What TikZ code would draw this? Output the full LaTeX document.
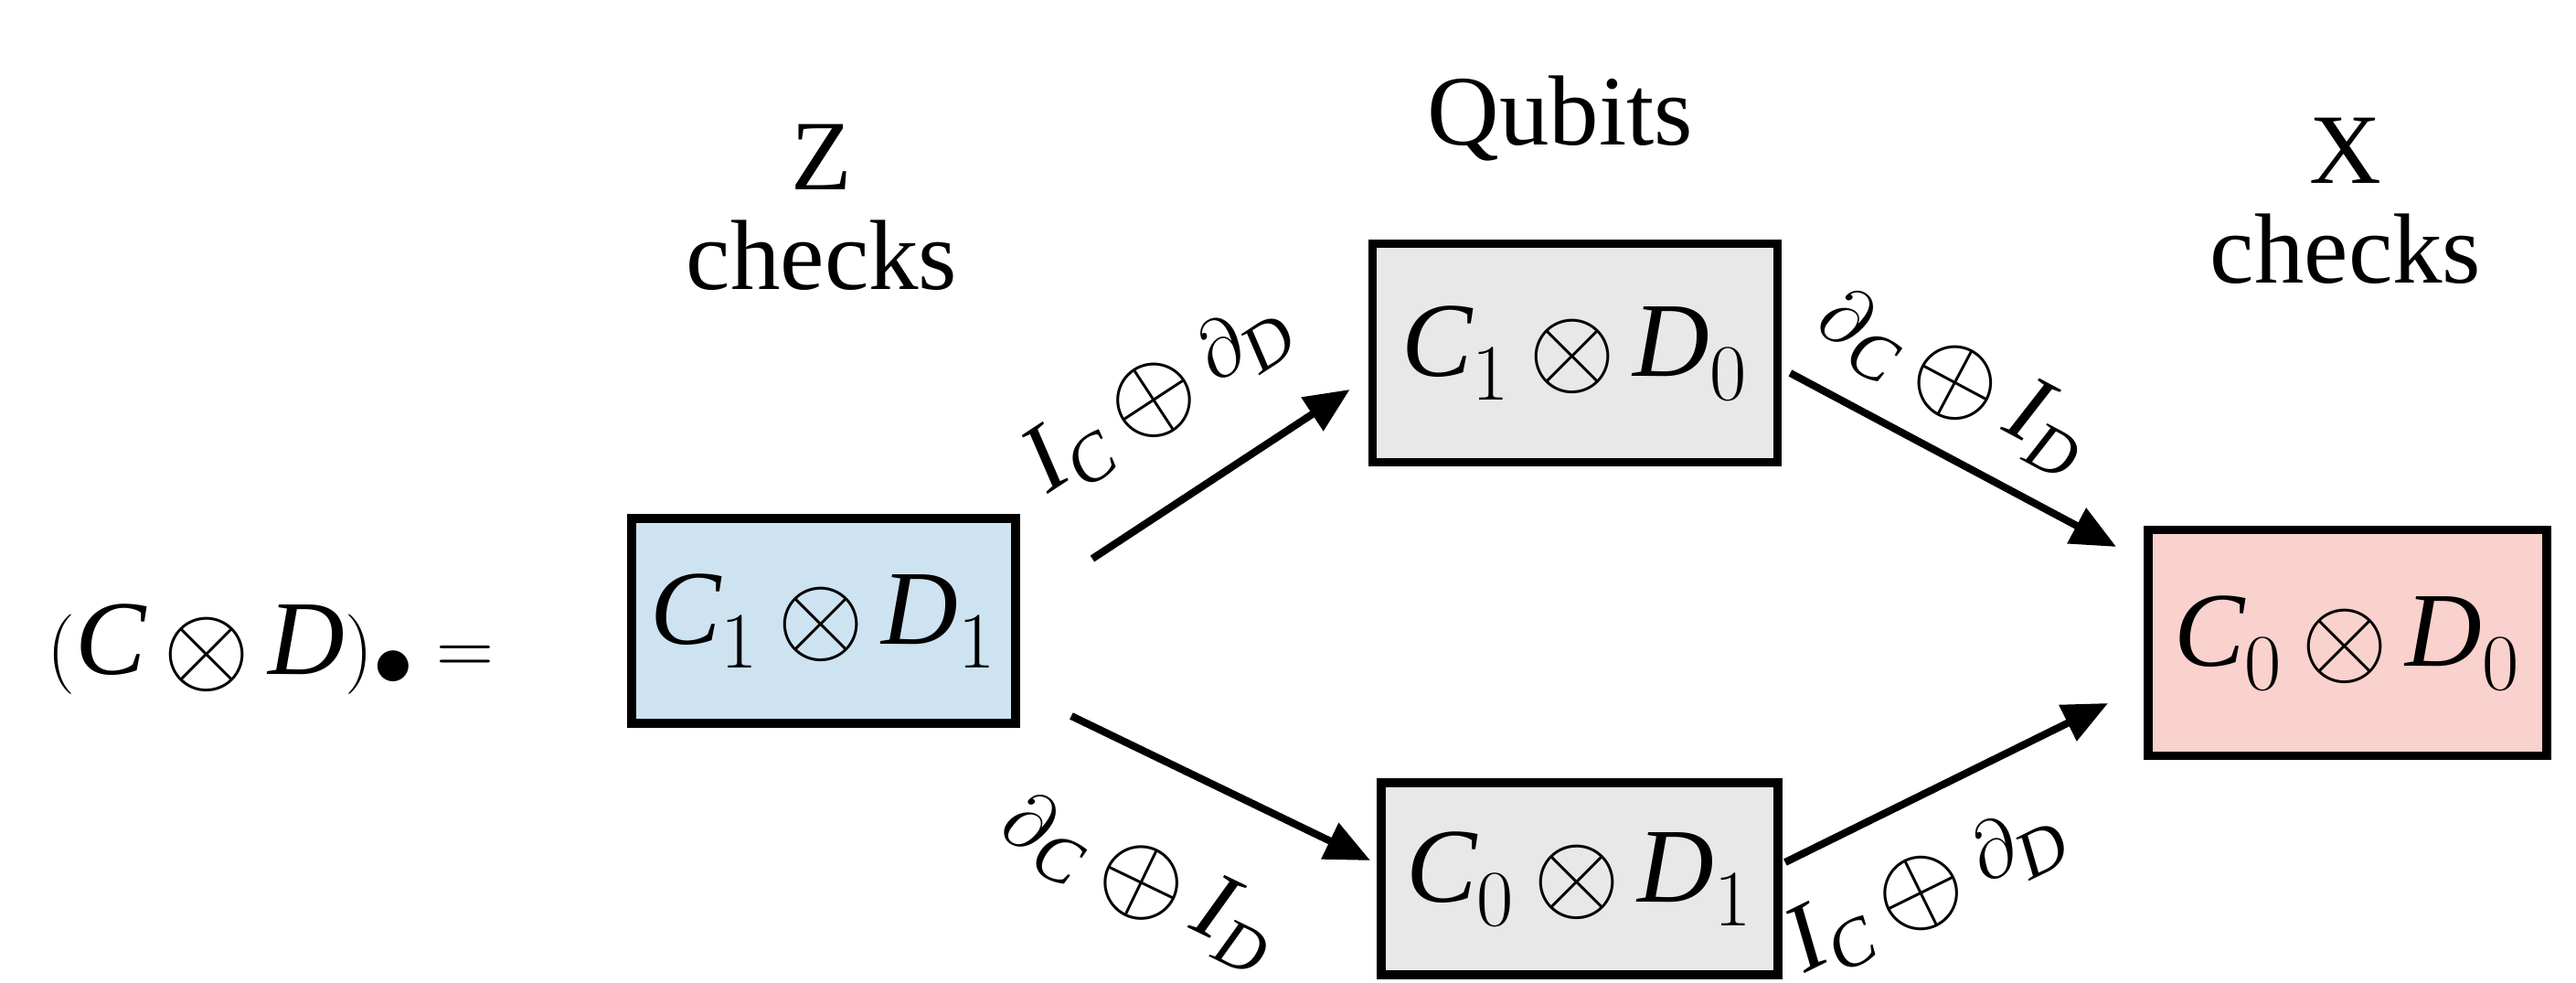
\documentclass[tikz,border=0pt]{standalone}
\usepackage{fontspec}
\setmainfont{Liberation Serif}
\usetikzlibrary{calc,arrows.meta}
\definecolor{zblue}{RGB}{206,227,241}
\definecolor{xpink}{RGB}{249,209,205}
\definecolor{qgray}{RGB}{232,232,232}
\def\bigop#1{\mathbin{\vcenter{\hbox{\scalebox{1.4}{$#1$}}}}}
\def\tens#1#2#3#4{\mathit{#1}_{#2}\bigop\otimes\mathit{#3}_{#4}}
\tikzset{
	box/.style={draw=black, line width=2.8pt, inner sep=0pt, font=\fontsize{33}{38}\selectfont},
	arr/.style={line width=2.3pt, -{Triangle[length=14pt,width=12pt]}},
	lbl/.style={font=\fontsize{30}{34}\selectfont, sloped, inner sep=0pt},
	ttl/.style={align=center, font=\fontsize{31}{31}\selectfont}
}
\begin{document}
\begin{tikzpicture}
		%%%%% START %%%%%
		\useasboundingbox (0, 0) rectangle (28.18, 10.74);
		
		\node (lhs) at (2.96, 3.64) {\fontsize{33}{38}\selectfont $(\mathit{C}\bigop\otimes\mathit{D})_{\bullet}=$};
		
		\node[box, fill=zblue, minimum width=4.2cm, minimum height=2.24cm] (zchk) at (9.01, 3.95) {$\tens C1D1$};
		\node[box, fill=qgray, minimum width=4.43cm, minimum height=2.39cm] (qtop) at (17.23, 6.88) {$\tens C1D0$};
		\node[box, fill=qgray, minimum width=4.34cm, minimum height=2.1cm] (qbot) at (17.28, 1.13) {$\tens C0D1$};
		\node[box, fill=xpink, minimum width=4.36cm, minimum height=2.47cm] (xchk) at (25.68, 3.71) {$\tens C0D0$};
		
		\node[ttl] (ztitle) at (8.99, 8.47) {Z\\checks};
		\node[ttl] (qtitle) at (17.07, 9.44) {Qubits};
		\node[ttl] (xtitle) at (25.66, 8.54) {X\\checks};
		
		\draw[arr] ($(zchk.east)+(0.79, 0.68)$) -- node[lbl, pos=0.47, above=0.62cm] {$\mathit{I}_{\mathit{C}}\bigop\oplus\partial_{\mathit{D}}$} ($(qtop.west)+(-0.2, -0.4)$);
		\draw[arr] ($(zchk.east)+(0.56, -1.04)$) -- node[lbl, pos=0.4, below=0.8cm] {$\partial_{\mathit{C}}\bigop\oplus\mathit{I}_{\mathit{D}}$} ($(qbot.west)+(-0.07, 0.2)$);
		\draw[arr] ($(qtop.east)+(0.09, -0.22)$) -- node[lbl, pos=0.4, above=0.3cm] {$\partial_{\mathit{C}}\bigop\oplus\mathit{I}_{\mathit{D}}$} ($(xchk.west)+(-0.3, 1.05)$);
		\draw[arr] ($(qbot.east)+(0.03, 0.18)$) -- node[lbl, pos=0.32, below=0.45cm] {$\mathit{I}_{\mathit{C}}\bigop\oplus\partial_{\mathit{D}}$} ($(xchk.west)+(-0.39, -0.66)$);
		
		%%%%% END %%%%%
	\end{tikzpicture}
\end{document}
